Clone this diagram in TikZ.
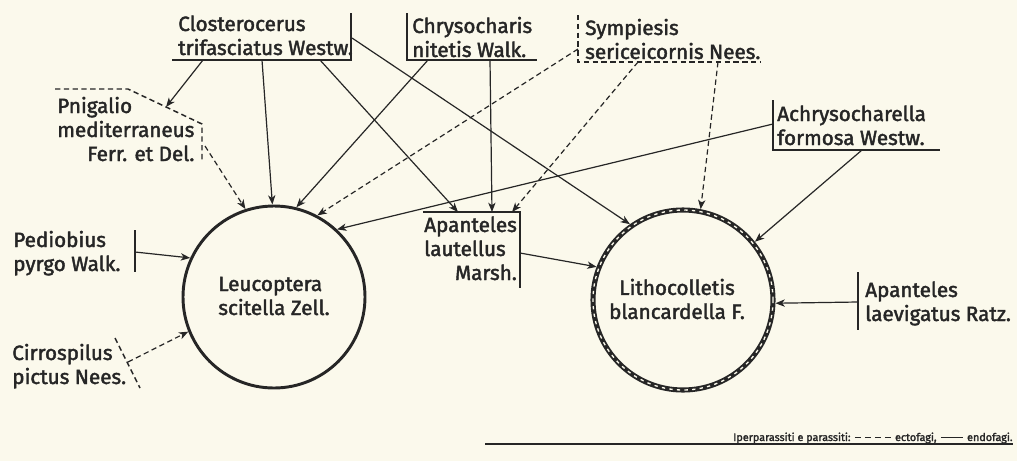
\documentclass[tikz,border=0pt]{standalone}
\usepackage{fontspec}
\setmainfont{Fira Sans}[FakeBold=2]
\usetikzlibrary{arrows.meta}
\definecolor{paper}{RGB}{251,249,236}
\definecolor{ink}{RGB}{38,38,38}
\newcommand\labtab[1]{\begin{tabular}[t]{@{}l@{}}#1\end{tabular}}
\begin{document}
\begin{tikzpicture}[x=0.75pt,y=0.75pt,
  lbl/.style={inner sep=0pt, anchor=base west, text=ink, font=\fontsize{15.5}{18}\selectfont},
  ctext/.style={inner sep=0pt, text=ink, font=\fontsize{15.5}{18}\selectfont},
  leg/.style={inner sep=0pt, anchor=base west, text=ink, font=\fontsize{8.1}{9}\selectfont},
  br/.style={draw=ink, line width=1.1pt},
  brd/.style={br, dash pattern=on 4pt off 2.6pt},
  con/.style={draw=ink, line width=0.9pt, -{Stealth[length=7pt,width=5.5pt,inset=2pt]}},
  cond/.style={con, dash pattern=on 4pt off 2.6pt},
  host/.style={circle, draw=ink, inner sep=0pt}
]
\useasboundingbox[fill=paper] (0,0) rectangle (1017,-461);

% labels
\node[lbl] (clo) at (178,-31) {\labtab{Closterocerus\\trifasciatus Westw.}};
\node[lbl] (chr) at (412,-33) {\labtab{Chrysocharis\\nitetis Walk.}};
\node[lbl] (sym) at (585,-35) {\labtab{Sympiesis\\sericeicornis Nees.}};
\node[lbl] (pni) at (57,-113) {\begin{tabular}[t]{@{}l@{}}Pnigalio\\mediterraneus\\\multicolumn{1}{@{}r@{}}{Ferr. et Del.}\end{tabular}};
\node[lbl] (ach) at (777,-121) {\labtab{Achrysocharella\\formosa Westw.}};
\node[lbl] (ped) at (13,-247) {\labtab{Pediobius\\pyrgo Walk.}};
\node[lbl] (cir) at (12,-360) {\labtab{Cirrospilus\\pictus Nees.}};
\node[lbl] (apl) at (424,-232) {\begin{tabular}[t]{@{}l@{}}Apanteles\\lautellus\\\multicolumn{1}{@{}r@{}}{Marsh.}\end{tabular}};
\node[lbl] (apv) at (865,-297) {\labtab{Apanteles\\laevigatus Ratz.}};

% host circles
\node[host, line width=2.2pt, minimum size=136.5pt] (leu) at (274,-297) {};
\node[ctext, align=left] (leutxt) at (274,-296) {Leucoptera\\scitella Zell.};
\node[host, line width=3.8pt, minimum size=135pt] (lit) at (683,-300) {};
\draw[paper, line width=1pt, dash pattern=on 2.5pt off 3.2pt] (lit.center) circle[radius=90];
\node[ctext, align=center] (littxt) at (677,-299) {Lithocolletis\\blancardella F.};

% brackets
\draw[br] (172,-60) coordinate (cloA) -- (351,-60) coordinate (cloB) -- (351,-13) coordinate (cloC);
\draw[br] (407,-13) coordinate (chrA) -- (407,-60) coordinate (chrB) -- (537,-60) coordinate (chrC);
\draw[brd] (578,-15) coordinate (symA) -- (578,-62) coordinate (symB) -- (760,-62) coordinate (symC);
\draw[brd] (55,-89) coordinate (pniA) -- (128,-89) coordinate (pniB) -- (202,-124) coordinate (pniC) -- (202,-162) coordinate (pniD);
\draw[br] (773,-100) coordinate (achA) -- (773,-150) coordinate (achB) -- (940,-150) coordinate (achC);
\draw[br] (135,-230) coordinate (pedA) -- (135,-272) coordinate (pedB);
\draw[brd] (115,-338) coordinate (cirA) -- (140,-388) coordinate (cirB);
\draw[br] (423,-212) coordinate (aplA) -- (520,-212) coordinate (aplB) -- (520,-288) coordinate (aplC);
\draw[br] (858,-272) coordinate (apvA) -- (858,-330) coordinate (apvB);

% connector end points
\coordinate (clo-1) at (203,-60);
\coordinate (clo-2) at (262,-60);
\coordinate (clo-3) at (320,-60);
\coordinate (clo-4) at (352,-38);
\coordinate (chr-1) at (428,-60);
\coordinate (chr-2) at (490,-60);
\coordinate (sym-1) at (578,-49);
\coordinate (sym-2) at (638,-62);
\coordinate (sym-3) at (718,-62);
\coordinate (pni-in) at (166,-107);
\coordinate (pni-out) at (205,-146);
\coordinate (ach-1) at (773,-124);
\coordinate (ach-2) at (862,-150);
\coordinate (ped-1) at (135,-252);
\coordinate (cir-1) at (128,-362);
\coordinate (apl-in1) at (458,-212);
\coordinate (apl-in2) at (492,-212);
\coordinate (apl-in3) at (512,-212);
\coordinate (apl-out) at (520,-253);
\coordinate (apv-1) at (858,-302);

% connectors
\draw[con] (clo-1) -- (pni-in);
\draw[con] (clo-2) -- (leu.91.3);
\draw[con] (clo-3) -- (apl-in1);
\draw[con] (clo-4) -- (lit.125.9);
\draw[con] (chr-1) -- (leu.76.4);
\draw[con] (chr-2) -- (apl-in2);
\draw[cond] (sym-1) -- (leu.62.6);
\draw[cond] (sym-2) -- (apl-in3);
\draw[cond] (sym-3) -- (lit.79);
\draw[cond] (pni-out) -- (leu.108.8);
\draw[con] (ach-1) -- (leu.47.2);
\draw[con] (ach-2) -- (lit.39.2);
\draw[con] (apl-out) -- (lit.159.4);
\draw[con] (apv-1) -- (lit.358.7);
\draw[con] (ped-1) -- (leu.155.8);
\draw[cond] (cir-1) -- (leu.202);

% legend
\node[leg] (lg1) at (733,-441) {Iperparassiti e parassiti:};
\draw[ink, line width=1pt, dash pattern=on 5pt off 2.5pt] ([shift={(4,3.5)}]lg1.base east) coordinate (lgD) -- ++(36,0) coordinate (lgE);
\node[leg] (lg2) at ([shift={(4,-3.5)}]lgE) {ectofagi,};
\draw[ink, line width=1pt] ([shift={(4,3.5)}]lg2.base east) coordinate (lgF) -- ++(22,0) coordinate (lgG);
\node[leg] (lg3) at ([shift={(4,-3.5)}]lgG) {endofagi.};
\draw[ink, line width=2pt] (485,-444) coordinate (lgA) -- (731,-444) coordinate (lgB);
\draw[ink, line width=0.8pt] (lgB) -- (lg3.base east |- lgB) coordinate (lgC);
\end{tikzpicture}
\end{document}
